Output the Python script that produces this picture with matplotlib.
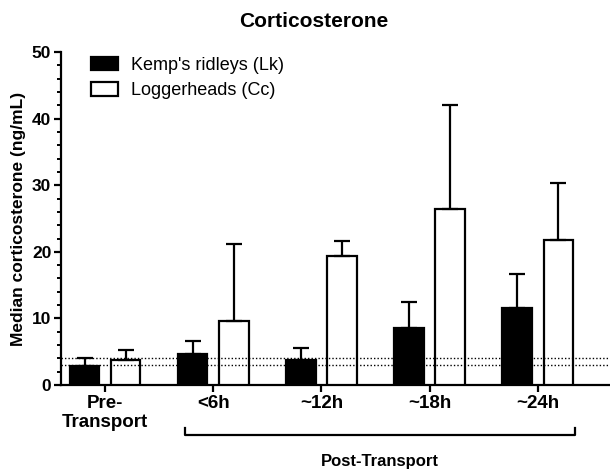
import matplotlib
matplotlib.use("Agg")
import matplotlib.pyplot as plt
import numpy as np
from matplotlib.ticker import MultipleLocator

plt.rcParams['font.family'] = ['Liberation Sans', 'DejaVu Sans']

# data
groups = ["Pre-\nTransport", "<6h", "~12h", "~18h", "~24h"]
lk_median = [2.8, 4.7, 3.8, 8.6, 11.5]
lk_upper = [4.1, 6.6, 5.6, 12.5, 16.7]
cc_median = [3.8, 9.6, 19.3, 26.4, 21.8]
cc_upper = [5.3, 21.2, 21.7, 42.0, 30.4]
ref_lines = [3.0, 4.0]

x = np.arange(len(groups))
w = 0.27
off = 0.19

fig = plt.figure(figsize=(6.1, 4.73), dpi=100)
ax = fig.add_axes([0.100, 0.186, 0.900, 0.704])

lk_err = [np.zeros(len(x)), np.array(lk_upper) - np.array(lk_median)]
cc_err = [np.zeros(len(x)), np.array(cc_upper) - np.array(cc_median)]
ekw = dict(ecolor="black", elinewidth=1.6, capsize=6, capthick=1.6)

ax.bar(x - off, lk_median, w, color="black", edgecolor="black", linewidth=1.6,
       yerr=lk_err, error_kw=ekw, label="Kemp's ridleys (Lk)", zorder=3)
ax.bar(x + off, cc_median, w, color="white", edgecolor="black", linewidth=1.6,
       yerr=cc_err, error_kw=ekw, label="Loggerheads (Cc)", zorder=3)

for v in ref_lines:
    ax.axhline(v, color="black", linestyle=(0, (1, 1.5)), linewidth=1, zorder=4)

ax.set_xlim(-0.41, 4.67)
ax.set_ylim(0, 50)
ax.yaxis.set_major_locator(MultipleLocator(10))
ax.yaxis.set_minor_locator(MultipleLocator(2))
ax.set_xticks(x)
ax.set_xticklabels(groups, fontsize=13.5, fontweight="bold")
for lab in ax.get_yticklabels():
    lab.set_fontweight("bold")
    lab.set_fontsize(12.5)

ax.spines["top"].set_visible(False)
ax.spines["right"].set_visible(False)
ax.spines["left"].set_linewidth(1.6)
ax.spines["bottom"].set_linewidth(1.6)
ax.tick_params(axis="both", which="major", width=1.6, length=5, pad=2)
ax.tick_params(axis="y", which="minor", width=1.4, length=3)

ax.set_ylabel("Median corticosterone (ng/mL)", fontsize=12.5, fontweight="bold", labelpad=4)
ax.set_title("Corticosterone", fontsize=15, fontweight="bold", pad=18, x=0.46)

leg = ax.legend(loc="upper left", bbox_to_anchor=(0.025, 1.035), frameon=False,
                fontsize=13, handlelength=1.5, handleheight=0.8, handletextpad=0.7,
                labelspacing=0.45)

# bracket for post-transport
bx0, bx1, by = 0.74, 4.35, -0.15
ax.plot([bx0, bx0, bx1, bx1], [by + 0.021, by, by, by + 0.021],
        transform=ax.get_xaxis_transform(), color="black", lw=1.6, clip_on=False)
ax.text((bx0 + bx1) / 2, -0.231, "Post-Transport", transform=ax.get_xaxis_transform(),
        ha="center", va="center", fontsize=12, fontweight="bold")

fig.savefig("out.png", dpi=100)
